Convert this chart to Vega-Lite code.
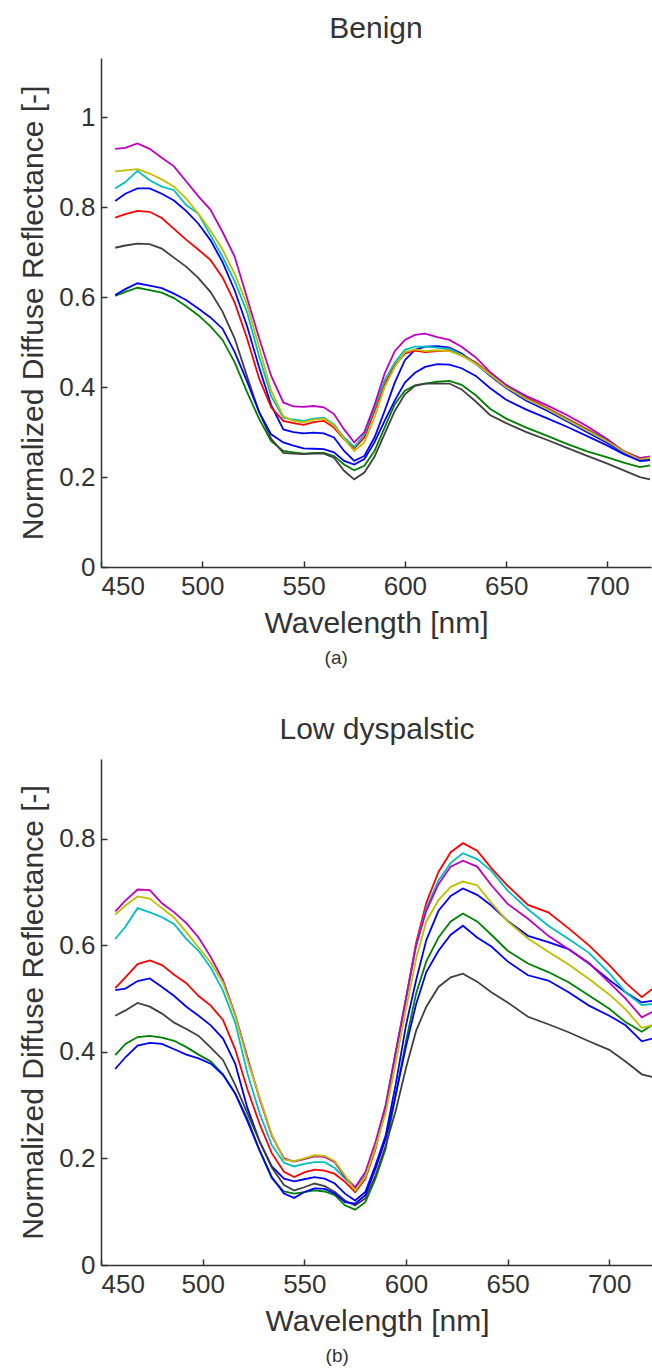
{
"$schema": "https://vega.github.io/schema/vega-lite/v6.json",
"background": "white",
"padding": {"left": 18, "top": 14, "right": 0, "bottom": 0},
"config": {
  "font": "Liberation Sans",
  "view": {"stroke": null},
  "axis": {"grid": false, "domainColor": "#333333", "domainWidth": 1.5, "tickColor": "#333333", "tickWidth": 1.5, "tickSize": -6, "labelPadding": 12, "labelFontSize": 26, "labelColor": "#333333", "labelFont": "Liberation Sans", "titleFont": "Liberation Sans", "titleFontSize": 30, "titleFontWeight": "normal", "titleColor": "#333333"},
  "title": {"font": "Liberation Sans", "fontSize": 30, "fontWeight": "normal", "color": "#333333"}
},
"datasets": {
"a": [
{"s":"b1","x":457,"v":0.814},{"s":"b1","x":462,"v":0.830},{"s":"b1","x":468,"v":0.842},{"s":"b1","x":474,"v":0.842},{"s":"b1","x":480,"v":0.830},{"s":"b1","x":486,"v":0.815},{"s":"b1","x":492,"v":0.792},{"s":"b1","x":498,"v":0.764},{"s":"b1","x":504,"v":0.727},{"s":"b1","x":510,"v":0.678},{"s":"b1","x":516,"v":0.615},{"s":"b1","x":522,"v":0.537},{"s":"b1","x":528,"v":0.445},{"s":"b1","x":534,"v":0.360},{"s":"b1","x":540,"v":0.306},{"s":"b1","x":545,"v":0.300},{"s":"b1","x":550,"v":0.297},{"s":"b1","x":555,"v":0.299},{"s":"b1","x":560,"v":0.297},{"s":"b1","x":565,"v":0.288},{"s":"b1","x":570,"v":0.258},{"s":"b1","x":575,"v":0.236},{"s":"b1","x":580,"v":0.247},{"s":"b1","x":585,"v":0.288},{"s":"b1","x":590,"v":0.347},{"s":"b1","x":595,"v":0.410},{"s":"b1","x":600,"v":0.460},{"s":"b1","x":605,"v":0.483},{"s":"b1","x":610,"v":0.490},{"s":"b1","x":616,"v":0.491},{"s":"b1","x":622,"v":0.488},{"s":"b1","x":628,"v":0.475},{"s":"b1","x":635,"v":0.452},{"s":"b1","x":642,"v":0.426},{"s":"b1","x":650,"v":0.398},{"s":"b1","x":660,"v":0.370},{"s":"b1","x":670,"v":0.348},{"s":"b1","x":680,"v":0.324},{"s":"b1","x":690,"v":0.300},{"s":"b1","x":700,"v":0.276},{"s":"b1","x":708,"v":0.254},{"s":"b1","x":716,"v":0.236},{"s":"b1","x":721,"v":0.238},
{"s":"g","x":457,"v":0.603},{"s":"g","x":462,"v":0.612},{"s":"g","x":468,"v":0.621},{"s":"g","x":474,"v":0.616},{"s":"g","x":480,"v":0.610},{"s":"g","x":486,"v":0.598},{"s":"g","x":492,"v":0.580},{"s":"g","x":498,"v":0.560},{"s":"g","x":504,"v":0.535},{"s":"g","x":510,"v":0.505},{"s":"g","x":516,"v":0.455},{"s":"g","x":522,"v":0.390},{"s":"g","x":528,"v":0.330},{"s":"g","x":534,"v":0.280},{"s":"g","x":540,"v":0.258},{"s":"g","x":545,"v":0.255},{"s":"g","x":550,"v":0.252},{"s":"g","x":555,"v":0.254},{"s":"g","x":560,"v":0.254},{"s":"g","x":565,"v":0.247},{"s":"g","x":570,"v":0.228},{"s":"g","x":575,"v":0.215},{"s":"g","x":580,"v":0.225},{"s":"g","x":585,"v":0.258},{"s":"g","x":590,"v":0.310},{"s":"g","x":595,"v":0.362},{"s":"g","x":600,"v":0.392},{"s":"g","x":605,"v":0.404},{"s":"g","x":610,"v":0.408},{"s":"g","x":616,"v":0.412},{"s":"g","x":622,"v":0.414},{"s":"g","x":628,"v":0.405},{"s":"g","x":635,"v":0.382},{"s":"g","x":642,"v":0.352},{"s":"g","x":650,"v":0.330},{"s":"g","x":660,"v":0.310},{"s":"g","x":670,"v":0.292},{"s":"g","x":680,"v":0.274},{"s":"g","x":690,"v":0.257},{"s":"g","x":700,"v":0.244},{"s":"g","x":708,"v":0.232},{"s":"g","x":716,"v":0.222},{"s":"g","x":721,"v":0.226},
{"s":"r","x":457,"v":0.777},{"s":"r","x":462,"v":0.785},{"s":"r","x":468,"v":0.792},{"s":"r","x":474,"v":0.790},{"s":"r","x":480,"v":0.776},{"s":"r","x":486,"v":0.752},{"s":"r","x":492,"v":0.728},{"s":"r","x":498,"v":0.706},{"s":"r","x":504,"v":0.683},{"s":"r","x":510,"v":0.644},{"s":"r","x":516,"v":0.588},{"s":"r","x":522,"v":0.510},{"s":"r","x":528,"v":0.420},{"s":"r","x":534,"v":0.355},{"s":"r","x":540,"v":0.325},{"s":"r","x":545,"v":0.320},{"s":"r","x":550,"v":0.316},{"s":"r","x":555,"v":0.322},{"s":"r","x":560,"v":0.325},{"s":"r","x":565,"v":0.310},{"s":"r","x":570,"v":0.284},{"s":"r","x":575,"v":0.264},{"s":"r","x":580,"v":0.288},{"s":"r","x":585,"v":0.347},{"s":"r","x":590,"v":0.407},{"s":"r","x":595,"v":0.448},{"s":"r","x":600,"v":0.475},{"s":"r","x":605,"v":0.481},{"s":"r","x":610,"v":0.478},{"s":"r","x":616,"v":0.480},{"s":"r","x":622,"v":0.482},{"s":"r","x":628,"v":0.472},{"s":"r","x":635,"v":0.455},{"s":"r","x":642,"v":0.430},{"s":"r","x":650,"v":0.403},{"s":"r","x":660,"v":0.376},{"s":"r","x":670,"v":0.354},{"s":"r","x":680,"v":0.330},{"s":"r","x":690,"v":0.306},{"s":"r","x":700,"v":0.282},{"s":"r","x":708,"v":0.258},{"s":"r","x":716,"v":0.242},{"s":"r","x":721,"v":0.245},
{"s":"c","x":457,"v":0.842},{"s":"c","x":462,"v":0.856},{"s":"c","x":468,"v":0.881},{"s":"c","x":474,"v":0.860},{"s":"c","x":480,"v":0.846},{"s":"c","x":486,"v":0.838},{"s":"c","x":492,"v":0.805},{"s":"c","x":498,"v":0.786},{"s":"c","x":504,"v":0.738},{"s":"c","x":510,"v":0.690},{"s":"c","x":516,"v":0.635},{"s":"c","x":522,"v":0.568},{"s":"c","x":528,"v":0.470},{"s":"c","x":534,"v":0.380},{"s":"c","x":540,"v":0.332},{"s":"c","x":545,"v":0.328},{"s":"c","x":550,"v":0.325},{"s":"c","x":555,"v":0.330},{"s":"c","x":560,"v":0.332},{"s":"c","x":565,"v":0.317},{"s":"c","x":570,"v":0.288},{"s":"c","x":575,"v":0.267},{"s":"c","x":580,"v":0.295},{"s":"c","x":585,"v":0.354},{"s":"c","x":590,"v":0.415},{"s":"c","x":595,"v":0.455},{"s":"c","x":600,"v":0.483},{"s":"c","x":605,"v":0.490},{"s":"c","x":610,"v":0.490},{"s":"c","x":616,"v":0.488},{"s":"c","x":622,"v":0.485},{"s":"c","x":628,"v":0.472},{"s":"c","x":635,"v":0.452},{"s":"c","x":642,"v":0.428},{"s":"c","x":650,"v":0.402},{"s":"c","x":660,"v":0.374},{"s":"c","x":670,"v":0.352},{"s":"c","x":680,"v":0.328},{"s":"c","x":690,"v":0.304},{"s":"c","x":700,"v":0.280},{"s":"c","x":708,"v":0.256},{"s":"c","x":716,"v":0.238},{"s":"c","x":721,"v":0.240},
{"s":"m","x":457,"v":0.930},{"s":"m","x":462,"v":0.932},{"s":"m","x":468,"v":0.942},{"s":"m","x":474,"v":0.930},{"s":"m","x":480,"v":0.910},{"s":"m","x":486,"v":0.891},{"s":"m","x":492,"v":0.858},{"s":"m","x":498,"v":0.825},{"s":"m","x":504,"v":0.795},{"s":"m","x":510,"v":0.745},{"s":"m","x":516,"v":0.690},{"s":"m","x":522,"v":0.600},{"s":"m","x":528,"v":0.510},{"s":"m","x":534,"v":0.425},{"s":"m","x":540,"v":0.366},{"s":"m","x":545,"v":0.357},{"s":"m","x":550,"v":0.356},{"s":"m","x":555,"v":0.358},{"s":"m","x":560,"v":0.355},{"s":"m","x":565,"v":0.340},{"s":"m","x":570,"v":0.306},{"s":"m","x":575,"v":0.277},{"s":"m","x":580,"v":0.300},{"s":"m","x":585,"v":0.360},{"s":"m","x":590,"v":0.430},{"s":"m","x":595,"v":0.480},{"s":"m","x":600,"v":0.505},{"s":"m","x":605,"v":0.516},{"s":"m","x":610,"v":0.519},{"s":"m","x":616,"v":0.511},{"s":"m","x":622,"v":0.505},{"s":"m","x":628,"v":0.490},{"s":"m","x":635,"v":0.466},{"s":"m","x":642,"v":0.434},{"s":"m","x":650,"v":0.405},{"s":"m","x":660,"v":0.380},{"s":"m","x":670,"v":0.360},{"s":"m","x":680,"v":0.338},{"s":"m","x":690,"v":0.313},{"s":"m","x":700,"v":0.284},{"s":"m","x":708,"v":0.257},{"s":"m","x":716,"v":0.242},{"s":"m","x":721,"v":0.246},
{"s":"y","x":457,"v":0.880},{"s":"y","x":462,"v":0.882},{"s":"y","x":468,"v":0.885},{"s":"y","x":474,"v":0.875},{"s":"y","x":480,"v":0.862},{"s":"y","x":486,"v":0.846},{"s":"y","x":492,"v":0.820},{"s":"y","x":498,"v":0.786},{"s":"y","x":504,"v":0.749},{"s":"y","x":510,"v":0.706},{"s":"y","x":516,"v":0.652},{"s":"y","x":522,"v":0.585},{"s":"y","x":528,"v":0.490},{"s":"y","x":534,"v":0.392},{"s":"y","x":540,"v":0.335},{"s":"y","x":545,"v":0.325},{"s":"y","x":550,"v":0.322},{"s":"y","x":555,"v":0.328},{"s":"y","x":560,"v":0.330},{"s":"y","x":565,"v":0.315},{"s":"y","x":570,"v":0.285},{"s":"y","x":575,"v":0.258},{"s":"y","x":580,"v":0.277},{"s":"y","x":585,"v":0.332},{"s":"y","x":590,"v":0.400},{"s":"y","x":595,"v":0.445},{"s":"y","x":600,"v":0.478},{"s":"y","x":605,"v":0.484},{"s":"y","x":610,"v":0.480},{"s":"y","x":616,"v":0.482},{"s":"y","x":622,"v":0.480},{"s":"y","x":628,"v":0.470},{"s":"y","x":635,"v":0.452},{"s":"y","x":642,"v":0.428},{"s":"y","x":650,"v":0.400},{"s":"y","x":660,"v":0.373},{"s":"y","x":670,"v":0.352},{"s":"y","x":680,"v":0.327},{"s":"y","x":690,"v":0.303},{"s":"y","x":700,"v":0.279},{"s":"y","x":708,"v":0.257},{"s":"y","x":716,"v":0.239},{"s":"y","x":721,"v":0.243},
{"s":"k","x":457,"v":0.710},{"s":"k","x":462,"v":0.715},{"s":"k","x":468,"v":0.719},{"s":"k","x":474,"v":0.718},{"s":"k","x":480,"v":0.708},{"s":"k","x":486,"v":0.688},{"s":"k","x":492,"v":0.668},{"s":"k","x":498,"v":0.643},{"s":"k","x":504,"v":0.612},{"s":"k","x":510,"v":0.568},{"s":"k","x":516,"v":0.508},{"s":"k","x":522,"v":0.425},{"s":"k","x":528,"v":0.345},{"s":"k","x":534,"v":0.285},{"s":"k","x":540,"v":0.254},{"s":"k","x":545,"v":0.252},{"s":"k","x":550,"v":0.251},{"s":"k","x":555,"v":0.252},{"s":"k","x":560,"v":0.252},{"s":"k","x":565,"v":0.243},{"s":"k","x":570,"v":0.214},{"s":"k","x":575,"v":0.195},{"s":"k","x":580,"v":0.210},{"s":"k","x":585,"v":0.245},{"s":"k","x":590,"v":0.296},{"s":"k","x":595,"v":0.347},{"s":"k","x":600,"v":0.384},{"s":"k","x":605,"v":0.403},{"s":"k","x":610,"v":0.408},{"s":"k","x":616,"v":0.408},{"s":"k","x":622,"v":0.408},{"s":"k","x":628,"v":0.395},{"s":"k","x":635,"v":0.368},{"s":"k","x":642,"v":0.338},{"s":"k","x":650,"v":0.320},{"s":"k","x":660,"v":0.300},{"s":"k","x":670,"v":0.283},{"s":"k","x":680,"v":0.265},{"s":"k","x":690,"v":0.247},{"s":"k","x":700,"v":0.230},{"s":"k","x":708,"v":0.215},{"s":"k","x":716,"v":0.200},{"s":"k","x":721,"v":0.195},
{"s":"b2","x":457,"v":0.605},{"s":"b2","x":462,"v":0.618},{"s":"b2","x":468,"v":0.631},{"s":"b2","x":474,"v":0.626},{"s":"b2","x":480,"v":0.620},{"s":"b2","x":486,"v":0.608},{"s":"b2","x":492,"v":0.594},{"s":"b2","x":498,"v":0.575},{"s":"b2","x":504,"v":0.555},{"s":"b2","x":510,"v":0.530},{"s":"b2","x":516,"v":0.478},{"s":"b2","x":522,"v":0.414},{"s":"b2","x":528,"v":0.345},{"s":"b2","x":534,"v":0.295},{"s":"b2","x":540,"v":0.277},{"s":"b2","x":545,"v":0.270},{"s":"b2","x":550,"v":0.264},{"s":"b2","x":555,"v":0.263},{"s":"b2","x":560,"v":0.262},{"s":"b2","x":565,"v":0.255},{"s":"b2","x":570,"v":0.236},{"s":"b2","x":575,"v":0.228},{"s":"b2","x":580,"v":0.240},{"s":"b2","x":585,"v":0.277},{"s":"b2","x":590,"v":0.325},{"s":"b2","x":595,"v":0.370},{"s":"b2","x":600,"v":0.410},{"s":"b2","x":605,"v":0.432},{"s":"b2","x":610,"v":0.445},{"s":"b2","x":616,"v":0.451},{"s":"b2","x":622,"v":0.450},{"s":"b2","x":628,"v":0.442},{"s":"b2","x":635,"v":0.425},{"s":"b2","x":642,"v":0.398},{"s":"b2","x":650,"v":0.372},{"s":"b2","x":660,"v":0.350},{"s":"b2","x":670,"v":0.331},{"s":"b2","x":680,"v":0.312},{"s":"b2","x":690,"v":0.291},{"s":"b2","x":700,"v":0.270},{"s":"b2","x":708,"v":0.251},{"s":"b2","x":716,"v":0.236},{"s":"b2","x":721,"v":0.238}
],
"b": [
{"s":"b1","x":457,"v":0.516},{"s":"b1","x":462,"v":0.519},{"s":"b1","x":468,"v":0.533},{"s":"b1","x":474,"v":0.538},{"s":"b1","x":480,"v":0.522},{"s":"b1","x":486,"v":0.505},{"s":"b1","x":492,"v":0.485},{"s":"b1","x":498,"v":0.468},{"s":"b1","x":504,"v":0.450},{"s":"b1","x":510,"v":0.425},{"s":"b1","x":516,"v":0.378},{"s":"b1","x":522,"v":0.295},{"s":"b1","x":528,"v":0.232},{"s":"b1","x":534,"v":0.185},{"s":"b1","x":540,"v":0.162},{"s":"b1","x":545,"v":0.157},{"s":"b1","x":550,"v":0.161},{"s":"b1","x":555,"v":0.165},{"s":"b1","x":560,"v":0.162},{"s":"b1","x":565,"v":0.153},{"s":"b1","x":570,"v":0.134},{"s":"b1","x":575,"v":0.121},{"s":"b1","x":580,"v":0.137},{"s":"b1","x":585,"v":0.187},{"s":"b1","x":590,"v":0.243},{"s":"b1","x":595,"v":0.340},{"s":"b1","x":600,"v":0.450},{"s":"b1","x":605,"v":0.535},{"s":"b1","x":610,"v":0.610},{"s":"b1","x":616,"v":0.665},{"s":"b1","x":622,"v":0.693},{"s":"b1","x":628,"v":0.707},{"s":"b1","x":635,"v":0.695},{"s":"b1","x":642,"v":0.675},{"s":"b1","x":650,"v":0.646},{"s":"b1","x":660,"v":0.618},{"s":"b1","x":670,"v":0.606},{"s":"b1","x":680,"v":0.593},{"s":"b1","x":690,"v":0.566},{"s":"b1","x":700,"v":0.535},{"s":"b1","x":708,"v":0.512},{"s":"b1","x":716,"v":0.493},{"s":"b1","x":721,"v":0.496},
{"s":"g","x":457,"v":0.394},{"s":"g","x":462,"v":0.415},{"s":"g","x":468,"v":0.428},{"s":"g","x":474,"v":0.430},{"s":"g","x":480,"v":0.427},{"s":"g","x":486,"v":0.421},{"s":"g","x":492,"v":0.409},{"s":"g","x":498,"v":0.395},{"s":"g","x":504,"v":0.382},{"s":"g","x":510,"v":0.358},{"s":"g","x":516,"v":0.322},{"s":"g","x":522,"v":0.275},{"s":"g","x":528,"v":0.215},{"s":"g","x":534,"v":0.163},{"s":"g","x":540,"v":0.138},{"s":"g","x":545,"v":0.134},{"s":"g","x":550,"v":0.137},{"s":"g","x":555,"v":0.140},{"s":"g","x":560,"v":0.138},{"s":"g","x":565,"v":0.131},{"s":"g","x":570,"v":0.112},{"s":"g","x":575,"v":0.104},{"s":"g","x":580,"v":0.118},{"s":"g","x":585,"v":0.162},{"s":"g","x":590,"v":0.218},{"s":"g","x":595,"v":0.320},{"s":"g","x":600,"v":0.420},{"s":"g","x":605,"v":0.510},{"s":"g","x":610,"v":0.570},{"s":"g","x":616,"v":0.615},{"s":"g","x":622,"v":0.645},{"s":"g","x":628,"v":0.660},{"s":"g","x":635,"v":0.645},{"s":"g","x":642,"v":0.620},{"s":"g","x":650,"v":0.590},{"s":"g","x":660,"v":0.566},{"s":"g","x":670,"v":0.550},{"s":"g","x":680,"v":0.531},{"s":"g","x":690,"v":0.506},{"s":"g","x":700,"v":0.481},{"s":"g","x":708,"v":0.456},{"s":"g","x":716,"v":0.438},{"s":"g","x":721,"v":0.450},
{"s":"r","x":457,"v":0.520},{"s":"r","x":462,"v":0.540},{"s":"r","x":468,"v":0.565},{"s":"r","x":474,"v":0.572},{"s":"r","x":480,"v":0.563},{"s":"r","x":486,"v":0.545},{"s":"r","x":492,"v":0.529},{"s":"r","x":498,"v":0.505},{"s":"r","x":504,"v":0.487},{"s":"r","x":510,"v":0.460},{"s":"r","x":516,"v":0.405},{"s":"r","x":522,"v":0.330},{"s":"r","x":528,"v":0.265},{"s":"r","x":534,"v":0.210},{"s":"r","x":540,"v":0.175},{"s":"r","x":545,"v":0.165},{"s":"r","x":550,"v":0.174},{"s":"r","x":555,"v":0.179},{"s":"r","x":560,"v":0.177},{"s":"r","x":565,"v":0.171},{"s":"r","x":570,"v":0.156},{"s":"r","x":575,"v":0.137},{"s":"r","x":580,"v":0.162},{"s":"r","x":585,"v":0.218},{"s":"r","x":590,"v":0.295},{"s":"r","x":595,"v":0.400},{"s":"r","x":600,"v":0.500},{"s":"r","x":605,"v":0.605},{"s":"r","x":610,"v":0.680},{"s":"r","x":616,"v":0.738},{"s":"r","x":622,"v":0.775},{"s":"r","x":628,"v":0.792},{"s":"r","x":635,"v":0.778},{"s":"r","x":642,"v":0.745},{"s":"r","x":650,"v":0.712},{"s":"r","x":660,"v":0.676},{"s":"r","x":670,"v":0.662},{"s":"r","x":680,"v":0.632},{"s":"r","x":690,"v":0.600},{"s":"r","x":700,"v":0.563},{"s":"r","x":708,"v":0.530},{"s":"r","x":716,"v":0.503},{"s":"r","x":721,"v":0.518},
{"s":"c","x":457,"v":0.612},{"s":"c","x":462,"v":0.635},{"s":"c","x":468,"v":0.670},{"s":"c","x":474,"v":0.662},{"s":"c","x":480,"v":0.653},{"s":"c","x":486,"v":0.640},{"s":"c","x":492,"v":0.612},{"s":"c","x":498,"v":0.590},{"s":"c","x":504,"v":0.558},{"s":"c","x":510,"v":0.515},{"s":"c","x":516,"v":0.455},{"s":"c","x":522,"v":0.360},{"s":"c","x":528,"v":0.285},{"s":"c","x":534,"v":0.225},{"s":"c","x":540,"v":0.192},{"s":"c","x":545,"v":0.185},{"s":"c","x":550,"v":0.190},{"s":"c","x":555,"v":0.193},{"s":"c","x":560,"v":0.193},{"s":"c","x":565,"v":0.182},{"s":"c","x":570,"v":0.162},{"s":"c","x":575,"v":0.143},{"s":"c","x":580,"v":0.168},{"s":"c","x":585,"v":0.224},{"s":"c","x":590,"v":0.300},{"s":"c","x":595,"v":0.400},{"s":"c","x":600,"v":0.500},{"s":"c","x":605,"v":0.600},{"s":"c","x":610,"v":0.670},{"s":"c","x":616,"v":0.722},{"s":"c","x":622,"v":0.755},{"s":"c","x":628,"v":0.773},{"s":"c","x":635,"v":0.762},{"s":"c","x":642,"v":0.740},{"s":"c","x":650,"v":0.703},{"s":"c","x":660,"v":0.668},{"s":"c","x":670,"v":0.637},{"s":"c","x":680,"v":0.612},{"s":"c","x":690,"v":0.586},{"s":"c","x":700,"v":0.548},{"s":"c","x":708,"v":0.512},{"s":"c","x":716,"v":0.488},{"s":"c","x":721,"v":0.490},
{"s":"m","x":457,"v":0.664},{"s":"m","x":462,"v":0.684},{"s":"m","x":468,"v":0.705},{"s":"m","x":474,"v":0.704},{"s":"m","x":480,"v":0.679},{"s":"m","x":486,"v":0.662},{"s":"m","x":492,"v":0.642},{"s":"m","x":498,"v":0.615},{"s":"m","x":504,"v":0.578},{"s":"m","x":510,"v":0.535},{"s":"m","x":516,"v":0.470},{"s":"m","x":522,"v":0.390},{"s":"m","x":528,"v":0.312},{"s":"m","x":534,"v":0.243},{"s":"m","x":540,"v":0.200},{"s":"m","x":545,"v":0.194},{"s":"m","x":550,"v":0.199},{"s":"m","x":555,"v":0.204},{"s":"m","x":560,"v":0.203},{"s":"m","x":565,"v":0.193},{"s":"m","x":570,"v":0.165},{"s":"m","x":575,"v":0.146},{"s":"m","x":580,"v":0.174},{"s":"m","x":585,"v":0.231},{"s":"m","x":590,"v":0.300},{"s":"m","x":595,"v":0.400},{"s":"m","x":600,"v":0.500},{"s":"m","x":605,"v":0.600},{"s":"m","x":610,"v":0.665},{"s":"m","x":616,"v":0.715},{"s":"m","x":622,"v":0.748},{"s":"m","x":628,"v":0.759},{"s":"m","x":635,"v":0.748},{"s":"m","x":642,"v":0.713},{"s":"m","x":650,"v":0.678},{"s":"m","x":660,"v":0.650},{"s":"m","x":670,"v":0.618},{"s":"m","x":680,"v":0.593},{"s":"m","x":690,"v":0.567},{"s":"m","x":700,"v":0.530},{"s":"m","x":708,"v":0.500},{"s":"m","x":716,"v":0.465},{"s":"m","x":721,"v":0.475},
{"s":"y","x":457,"v":0.658},{"s":"y","x":462,"v":0.675},{"s":"y","x":468,"v":0.692},{"s":"y","x":474,"v":0.688},{"s":"y","x":480,"v":0.670},{"s":"y","x":486,"v":0.652},{"s":"y","x":492,"v":0.625},{"s":"y","x":498,"v":0.596},{"s":"y","x":504,"v":0.568},{"s":"y","x":510,"v":0.530},{"s":"y","x":516,"v":0.468},{"s":"y","x":522,"v":0.385},{"s":"y","x":528,"v":0.315},{"s":"y","x":534,"v":0.245},{"s":"y","x":540,"v":0.198},{"s":"y","x":545,"v":0.195},{"s":"y","x":550,"v":0.200},{"s":"y","x":555,"v":0.206},{"s":"y","x":560,"v":0.205},{"s":"y","x":565,"v":0.195},{"s":"y","x":570,"v":0.168},{"s":"y","x":575,"v":0.140},{"s":"y","x":580,"v":0.165},{"s":"y","x":585,"v":0.221},{"s":"y","x":590,"v":0.285},{"s":"y","x":595,"v":0.380},{"s":"y","x":600,"v":0.480},{"s":"y","x":605,"v":0.575},{"s":"y","x":610,"v":0.645},{"s":"y","x":616,"v":0.685},{"s":"y","x":622,"v":0.710},{"s":"y","x":628,"v":0.720},{"s":"y","x":635,"v":0.713},{"s":"y","x":642,"v":0.680},{"s":"y","x":650,"v":0.645},{"s":"y","x":660,"v":0.613},{"s":"y","x":670,"v":0.588},{"s":"y","x":680,"v":0.564},{"s":"y","x":690,"v":0.537},{"s":"y","x":700,"v":0.508},{"s":"y","x":708,"v":0.480},{"s":"y","x":716,"v":0.445},{"s":"y","x":721,"v":0.450},
{"s":"k","x":457,"v":0.468},{"s":"k","x":462,"v":0.478},{"s":"k","x":468,"v":0.492},{"s":"k","x":474,"v":0.485},{"s":"k","x":480,"v":0.472},{"s":"k","x":486,"v":0.455},{"s":"k","x":492,"v":0.443},{"s":"k","x":498,"v":0.430},{"s":"k","x":504,"v":0.408},{"s":"k","x":510,"v":0.385},{"s":"k","x":516,"v":0.338},{"s":"k","x":522,"v":0.285},{"s":"k","x":528,"v":0.232},{"s":"k","x":534,"v":0.183},{"s":"k","x":540,"v":0.150},{"s":"k","x":545,"v":0.140},{"s":"k","x":550,"v":0.146},{"s":"k","x":555,"v":0.153},{"s":"k","x":560,"v":0.148},{"s":"k","x":565,"v":0.137},{"s":"k","x":570,"v":0.121},{"s":"k","x":575,"v":0.112},{"s":"k","x":580,"v":0.125},{"s":"k","x":585,"v":0.168},{"s":"k","x":590,"v":0.224},{"s":"k","x":595,"v":0.290},{"s":"k","x":600,"v":0.370},{"s":"k","x":605,"v":0.440},{"s":"k","x":610,"v":0.485},{"s":"k","x":616,"v":0.522},{"s":"k","x":622,"v":0.540},{"s":"k","x":628,"v":0.547},{"s":"k","x":635,"v":0.532},{"s":"k","x":642,"v":0.512},{"s":"k","x":650,"v":0.493},{"s":"k","x":660,"v":0.466},{"s":"k","x":670,"v":0.452},{"s":"k","x":680,"v":0.437},{"s":"k","x":690,"v":0.420},{"s":"k","x":700,"v":0.404},{"s":"k","x":708,"v":0.382},{"s":"k","x":716,"v":0.358},{"s":"k","x":721,"v":0.353},
{"s":"b2","x":457,"v":0.368},{"s":"b2","x":462,"v":0.390},{"s":"b2","x":468,"v":0.412},{"s":"b2","x":474,"v":0.417},{"s":"b2","x":480,"v":0.415},{"s":"b2","x":486,"v":0.405},{"s":"b2","x":492,"v":0.395},{"s":"b2","x":498,"v":0.388},{"s":"b2","x":504,"v":0.378},{"s":"b2","x":510,"v":0.357},{"s":"b2","x":516,"v":0.322},{"s":"b2","x":522,"v":0.270},{"s":"b2","x":528,"v":0.215},{"s":"b2","x":534,"v":0.165},{"s":"b2","x":540,"v":0.134},{"s":"b2","x":545,"v":0.126},{"s":"b2","x":550,"v":0.137},{"s":"b2","x":555,"v":0.144},{"s":"b2","x":560,"v":0.143},{"s":"b2","x":565,"v":0.134},{"s":"b2","x":570,"v":0.118},{"s":"b2","x":575,"v":0.115},{"s":"b2","x":580,"v":0.131},{"s":"b2","x":585,"v":0.181},{"s":"b2","x":590,"v":0.237},{"s":"b2","x":595,"v":0.320},{"s":"b2","x":600,"v":0.410},{"s":"b2","x":605,"v":0.490},{"s":"b2","x":610,"v":0.550},{"s":"b2","x":616,"v":0.590},{"s":"b2","x":622,"v":0.620},{"s":"b2","x":628,"v":0.637},{"s":"b2","x":635,"v":0.615},{"s":"b2","x":642,"v":0.598},{"s":"b2","x":650,"v":0.570},{"s":"b2","x":660,"v":0.544},{"s":"b2","x":670,"v":0.534},{"s":"b2","x":680,"v":0.512},{"s":"b2","x":690,"v":0.487},{"s":"b2","x":700,"v":0.468},{"s":"b2","x":708,"v":0.450},{"s":"b2","x":716,"v":0.420},{"s":"b2","x":721,"v":0.425}
]
},
"spacing": 47,
"vconcat": [
{
  "title": {"text": "(a)", "orient": "bottom", "anchor": "middle", "fontSize": 19, "offset": 11},
  "vconcat": [
  {
    "title": {"text": "Benign", "offset": 14},
    "width": 550, "height": 509,
    "data": {"name": "a"},
    "mark": {"type": "line", "strokeWidth": 1.8},
    "encoding": {
      "x": {"field": "x", "type": "quantitative", "scale": {"domain": [450, 721.5], "nice": false, "zero": false}, "axis": {"values": [450, 500, 550, 600, 650, 700], "format": "d", "title": "Wavelength [nm]", "titlePadding": 9}},
      "y": {"field": "v", "type": "quantitative", "scale": {"domain": [0, 1.132], "nice": false}, "axis": {"values": [0, 0.2, 0.4, 0.6, 0.8, 1], "format": "~g", "title": "Normalized Diffuse Reflectance [-]", "titlePadding": 10}},
      "color": {"field": "s", "type": "nominal", "sort": null, "scale": {"domain": ["b1", "g", "r", "c", "m", "y", "k", "b2"], "range": ["#0000ff", "#008000", "#ff0000", "#00bfbf", "#bf00bf", "#bfbf00", "#404040", "#0000ff"]}, "legend": null}
    }
  }
  ]
},
{
  "title": {"text": "(b)", "orient": "bottom", "anchor": "middle", "fontSize": 19, "offset": 11},
  "vconcat": [
  {
    "title": {"text": "Low dyspalstic", "offset": 14},
    "width": 552, "height": 506,
    "data": {"name": "b"},
    "mark": {"type": "line", "strokeWidth": 1.8},
    "encoding": {
      "x": {"field": "x", "type": "quantitative", "scale": {"domain": [450, 721.5], "nice": false, "zero": false}, "axis": {"values": [450, 500, 550, 600, 650, 700], "format": "d", "title": "Wavelength [nm]", "titlePadding": 9}},
      "y": {"field": "v", "type": "quantitative", "scale": {"domain": [0, 0.95], "nice": false}, "axis": {"values": [0, 0.2, 0.4, 0.6, 0.8], "format": "~g", "title": "Normalized Diffuse Reflectance [-]", "titlePadding": 10}},
      "color": {"field": "s", "type": "nominal", "sort": null, "scale": {"domain": ["b1", "g", "r", "c", "m", "y", "k", "b2"], "range": ["#0000ff", "#008000", "#ff0000", "#00bfbf", "#bf00bf", "#bfbf00", "#404040", "#0000ff"]}, "legend": null}
    }
  }
  ]
}
]
}
